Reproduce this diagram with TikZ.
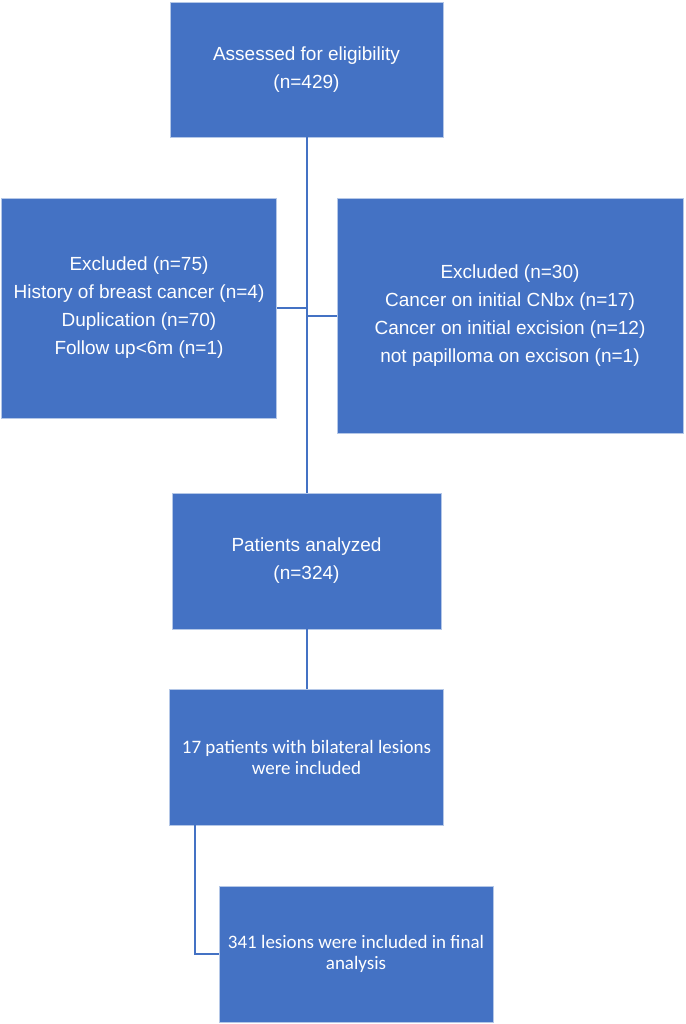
\documentclass[tikz,border=0pt]{standalone}
\usepackage{fontspec}
\setmainfont{Liberation Sans}
\newfontfamily\calibri{Carlito}
\definecolor{boxblue}{HTML}{4472C4}
\definecolor{edgeblue}{HTML}{B4C7E7}

\begin{document}
\begin{tikzpicture}[x=1pt, y=-1pt,
	box/.style = {rectangle, fill=boxblue, draw=edgeblue, line width=0.8pt, text=white, align=center, inner sep=0pt, font={\fontsize{19}{28}\selectfont}},
	smallbox/.style = {box, font={\calibri\fontsize{19}{21}\selectfont}},
	link/.style = {draw=boxblue, line width=2pt}]
	\useasboundingbox (0,0) rectangle (685,1024);

	\node [box, minimum width=273pt, minimum height=135pt] (assessed) at (306.5,69.5) {Assessed for eligibility\\(n=429)};
	\node [box, minimum width=275pt, minimum height=220pt] (exclA) at (139,308) {Excluded (n=75)\\History of breast cancer (n=4)\\Duplication (n=70)\\Follow up<6m (n=1)};
	\node [box, minimum width=346pt, minimum height=235pt] (exclB) at (510,315.5) {Excluded (n=30)\\Cancer on initial CNbx (n=17)\\Cancer on initial excision (n=12)\\not papilloma on excison (n=1)};
	\node [box, minimum width=269pt, minimum height=136pt] (analyzed) at (306.5,561) {Patients analyzed\\(n=324)};
	\node [smallbox, minimum width=274pt, minimum height=136pt] (bilateral) at (306.5,757) {17 patients with bilateral lesions\\were included};
	\node [smallbox, minimum width=274pt, minimum height=136pt] (lesions) at (356,954) {341 lesions were included in final\\analysis};

	\draw [link] (assessed.south) -- (analyzed.north);
	\draw [link] (exclA.east) -- (exclA.east -| assessed.south);
	\draw [link] (exclB.west) -- (exclB.west -| assessed.south);
	\draw [link] (analyzed.south) -- (bilateral.north);
	\coordinate (elbow) at ([xshift=26pt]bilateral.south west);
	\draw [link] (elbow) |- (lesions.west);
\end{tikzpicture}
\end{document}
